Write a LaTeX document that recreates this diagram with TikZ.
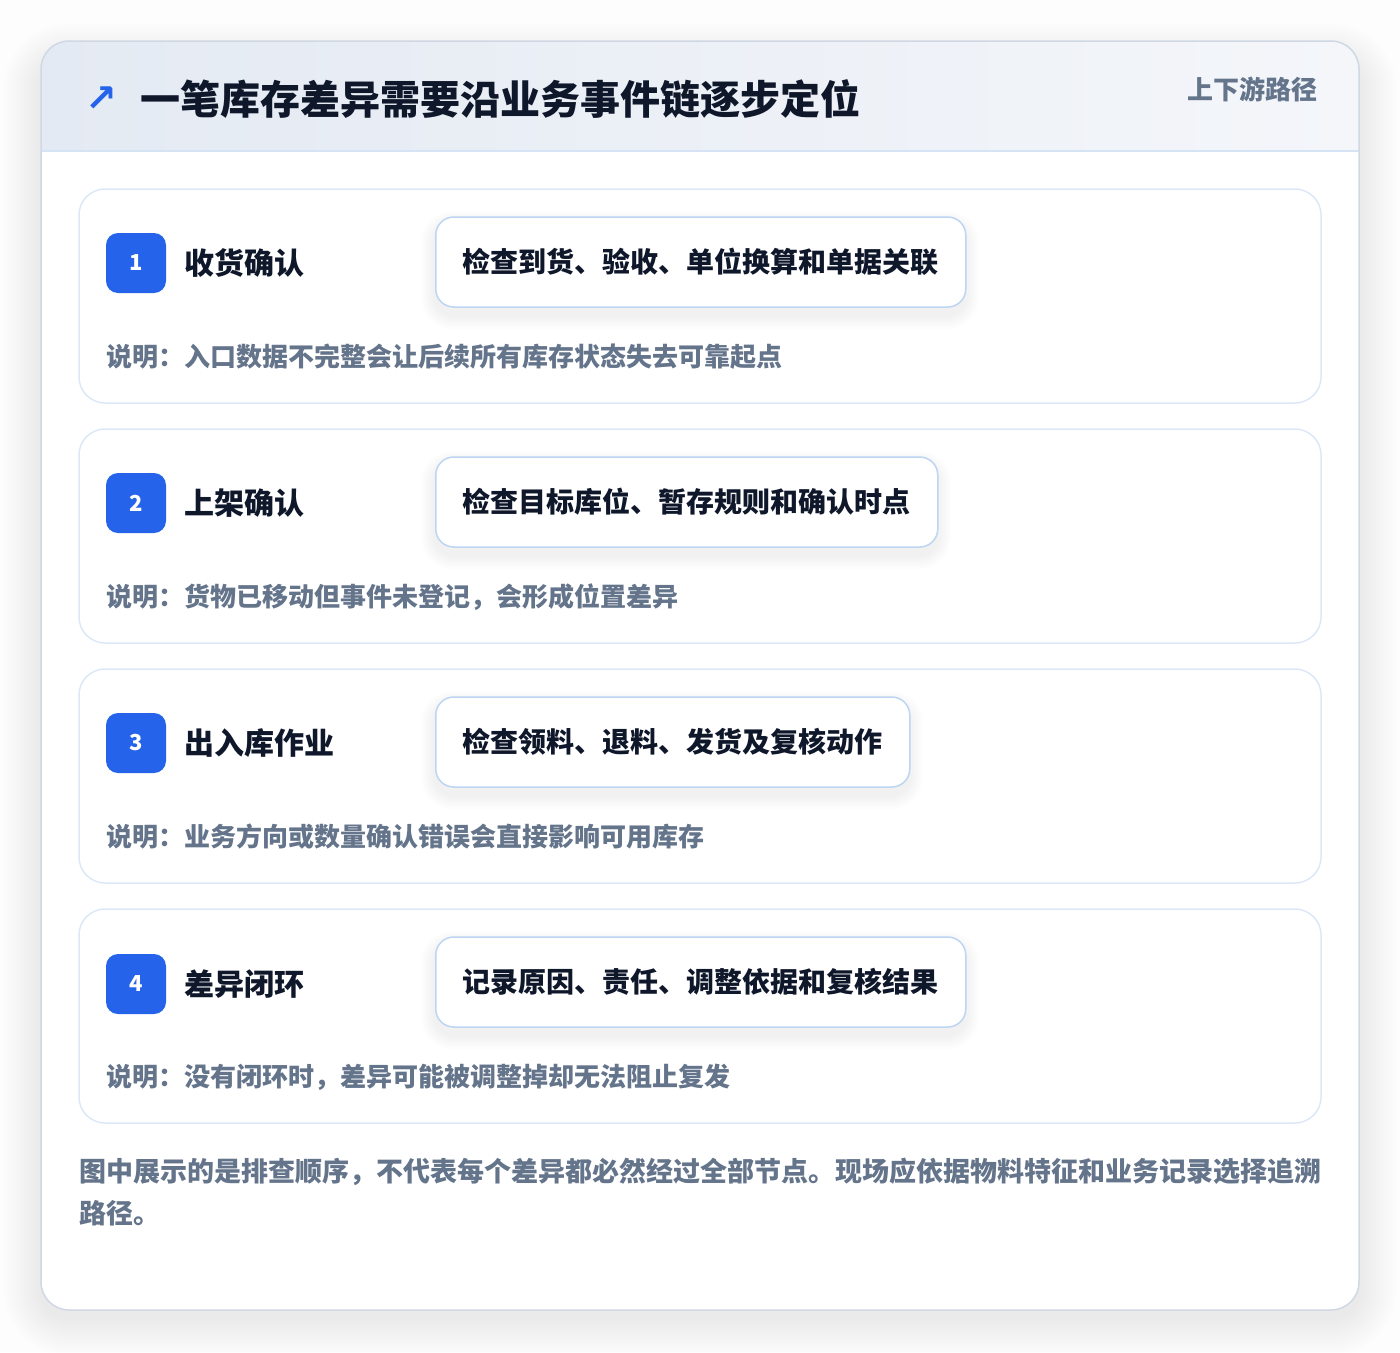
\documentclass[tikz,border=0pt]{standalone}
\usepackage{fontspec}
\setmainfont{Noto Sans CJK SC}
\newfontfamily\symfont{DejaVu Sans}
\definecolor{pagebg}{HTML}{FDFDFE}
\definecolor{cardline}{HTML}{D0D8E4}
\definecolor{headleft}{HTML}{E4EAF3}
\definecolor{headright}{HTML}{F4F6FA}
\definecolor{headline}{HTML}{D5E3F5}
\definecolor{stepline}{HTML}{DCE8F7}
\definecolor{checkline}{HTML}{BDD5F2}
\definecolor{badgeblue}{HTML}{2563EB}
\definecolor{inkdark}{HTML}{0F172A}
\definecolor{inkgray}{HTML}{64748B}
\begin{document}
\begin{tikzpicture}[x=1pt, y=-1pt,
  softshade/.style={fill=black, opacity=0.009},
  outershade/.style={fill=black, opacity=0.0045},
  stepcard/.style={draw=stepline, line width=1.5pt, fill=white, rounded corners=26pt},
  badge/.style={fill=badgeblue, rounded corners=12pt, minimum width=60pt, minimum height=60pt, inner sep=0pt, text=white, font=\bfseries\fontsize{22}{22}\selectfont},
  steptitle/.style={anchor=west, inner sep=0pt, text=inkdark, font=\bfseries\fontsize{30}{30}\selectfont},
  checkbox/.style={anchor=west, draw=checkline, line width=1.5pt, fill=white, rounded corners=18pt, minimum height=90pt, inner xsep=0pt, text=inkdark, font=\bfseries\fontsize{28}{30}\selectfont},
  stepnote/.style={anchor=west, inner sep=0pt, text=inkgray, font=\bfseries\fontsize{26}{27}\selectfont}]
\useasboundingbox (0,0) rectangle (1400,1352);
\fill[pagebg] (0,0) rectangle (1400,1352);
\foreach \k in {2,4,...,38}
  \fill[outershade, rounded corners=28pt+\k pt] (41-\k,41-\k+20) rectangle (1359+\k,1310+\k+8);
\fill[white, rounded corners=28pt] (41,41) rectangle (1359,1310);
\begin{scope}
\clip[rounded corners=28pt] (41,41) rectangle (1359,1310);
\shade[left color=headleft, right color=headright] (41,41) rectangle (1359,151);
\draw[headline, line width=1.5pt] (41,151) -- (1359,151);
\end{scope}
\draw[cardline, line width=1.5pt, rounded corners=28pt] (41,41) rectangle (1359,1310);
\node[inner sep=0pt, text=badgeblue, font=\symfont\bfseries\fontsize{38}{38}\selectfont] (icon) at (101,99) {↗};
\node[anchor=west, inner sep=0pt, text=inkdark, font=\bfseries\fontsize{40}{40}\selectfont] (title) at (140,99) {一笔库存差异需要沿业务事件链逐步定位};
\node[anchor=east, inner sep=0pt, text=inkgray, font=\bfseries\fontsize{26}{26}\selectfont] (scope) at (1318,89) {上下游路径};
\draw[stepcard] (79,189) rectangle (1321,403);
\draw[stepcard] (79,429) rectangle (1321,643);
\draw[stepcard] (79,669) rectangle (1321,883);
\draw[stepcard] (79,909) rectangle (1321,1123);
\foreach \y/\r in {217/965,457/937,697/909,937/965}
  \foreach \k in {2,4,...,14}
    \fill[softshade, rounded corners=18pt+\k pt] (435-\k,\y-\k+8) rectangle (\r+\k,\y+90+\k+8);
\node[badge] (b1) at (136,263) {1};
\node[steptitle] (t1) at (184,263) {收货确认};
\node[checkbox, minimum width=530pt] (c1) at (435,262) {检查到货、验收、单位换算和单据关联};
\node[stepnote] (n1) at (106,357) {说明：入口数据不完整会让后续所有库存状态失去可靠起点};
\node[badge] (b2) at (136,503) {2};
\node[steptitle] (t2) at (184,503) {上架确认};
\node[checkbox, minimum width=502pt] (c2) at (435,502) {检查目标库位、暂存规则和确认时点};
\node[stepnote] (n2) at (106,597) {说明：货物已移动但事件未登记，会形成位置差异};
\node[badge] (b3) at (136,743) {3};
\node[steptitle] (t3) at (184,743) {出入库作业};
\node[checkbox, minimum width=474pt] (c3) at (435,742) {检查领料、退料、发货及复核动作};
\node[stepnote] (n3) at (106,837) {说明：业务方向或数量确认错误会直接影响可用库存};
\node[badge] (b4) at (136,984) {4};
\node[steptitle] (t4) at (184,984) {差异闭环};
\node[checkbox, minimum width=530pt] (c4) at (435,982) {记录原因、责任、调整依据和复核结果};
\node[stepnote] (n4) at (106,1077) {说明：没有闭环时，差异可能被调整掉却无法阻止复发};
\node[anchor=north west, inner sep=0pt, align=left, text=inkgray, font=\bfseries\fontsize{27}{42}\selectfont] (foot) at (79,1158) {图中展示的是排查顺序，不代表每个差异都必然经过全部节点。现场应依据物料特征和业务记录选择追溯\\路径。};
\end{tikzpicture}
\end{document}
